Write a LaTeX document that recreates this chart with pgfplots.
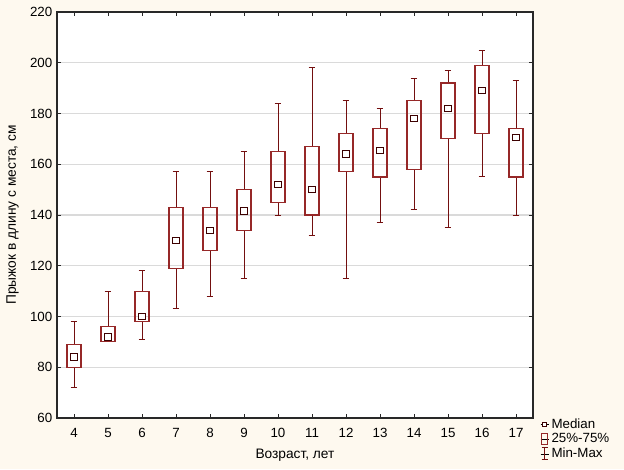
\documentclass[border=0pt]{standalone}
\usepackage{pgfplots}
\pgfplotsset{compat=1.18}
\usepgfplotslibrary{statistics}
\usepackage{fontspec}
\setmainfont{Liberation Sans}
\definecolor{bgc}{RGB}{254,249,239}
\definecolor{whc}{RGB}{115,15,15}
\definecolor{boxc}{RGB}{150,40,40}
\definecolor{medc}{RGB}{60,0,0}
\definecolor{gridc}{RGB}{218,218,218}
\definecolor{axc}{RGB}{40,40,40}
\newcommand{\bp}[6]{%
\addplot[forget plot, boxplot prepared={draw position=#1, lower whisker=#2, lower quartile=#3, median=#4, upper quartile=#5, upper whisker=#6}] coordinates {};}
\begin{document}
\begin{tikzpicture}
\fill[bgc] (0,0) rectangle (468pt,351.75pt);
\begin{axis}[
  at={(42.75pt,38.25pt)}, anchor=south west,
  scale only axis, width=357pt, height=304.5pt,
  xmin=3.5, xmax=17.5, ymin=60, ymax=220,
  xtick={4,...,17}, ytick={60,80,...,220},
  ymajorgrids, grid style={gridc, line width=0.8pt},
  axis line style={axc, line width=0.8pt},
  tick style={axc, line width=0.6pt}, major tick length=3pt, tick align=inside,
  axis background/.style={fill=white},
  font=\fontsize{10.3}{12}\selectfont,
  /pgf/number format/assume math mode=true,
  ticklabel style={font=\fontsize{10}{12}\selectfont},
  xticklabel style={yshift=-4pt},
  xlabel={Возраст, лет}, ylabel={Прыжок в длину с места, см},
  xlabel style={at={(axis description cs:0.5,-0.091)}, anchor=center},
  ylabel style={at={(axis description cs:-0.0935,0.5)}, anchor=center},
  boxplot/draw direction=y,
  boxplot/box extend=0.41,
  boxplot/whisker extend=0.2,
  boxplot/draw/median/.code={},
  boxplot/every box/.style={draw=boxc, line width=0.9pt},
  boxplot/every whisker/.style={draw=whc, line width=0.7pt},
  legend style={at={(axis description cs:1.012,0.009)}, anchor=north west, draw=none, fill=none,
    font=\fontsize{10}{12}\selectfont, row sep=-1.6pt, inner sep=1pt, nodes={inner sep=2pt}},
  legend cell align=left,
]
\bp{4}{72}{80}{84}{89}{98}
\bp{5}{90}{90}{92}{96}{110}
\bp{6}{91}{98}{100}{110}{118}
\bp{7}{103}{119}{130}{143}{157}
\bp{8}{108}{126}{134}{143}{157}
\bp{9}{115}{134}{141.5}{150}{165}
\bp{10}{140}{145}{152}{165}{184}
\bp{11}{132}{140}{150}{167}{198}
\bp{12}{115}{157}{164}{172}{185}
\bp{13}{137}{155}{165.5}{174}{182}
\bp{14}{142}{158}{178}{185}{194}
\bp{15}{135}{170}{182}{192}{197}
\bp{16}{155}{172}{189}{199}{205}
\bp{17}{140}{155}{170.5}{174}{193}
\addplot[forget plot, only marks, mark=square*, mark size=2.4pt, mark options={fill=white, draw=medc, line width=0.75pt}] coordinates {
(4,84) (5,92) (6,100) (7,130) (8,134) (9,141.5) (10,152) (11,150) (12,164) (13,165.5) (14,178) (15,182) (16,189) (17,170.5)};
\addlegendimage{legend image code/.code={\path (0pt,0pt) -- (6pt,0pt); \draw[medc, fill=white, line width=0.7pt] (1.3pt,-1.4pt) rectangle (4.5pt,1.8pt);}}
\addlegendentry{Median}
\addlegendimage{legend image code/.code={\path (0pt,0pt) -- (6pt,0pt); \draw[boxc, line width=0.8pt] (0.5pt,-3.8pt) rectangle (5.5pt,4.4pt);}}
\addlegendentry{25\%-75\%}
\addlegendimage{legend image code/.code={\path (0pt,0pt) -- (6pt,0pt); \draw[whc, line width=0.75pt] (3pt,-4pt) -- (3pt,4.4pt) (0.8pt,4.4pt) -- (5.2pt,4.4pt) (0.8pt,-4pt) -- (5.2pt,-4pt);}}
\addlegendentry{Min-Max}
\end{axis}
\pgfresetboundingbox
\useasboundingbox (0,0) rectangle (468pt,351.75pt);
\end{tikzpicture}
\end{document}
